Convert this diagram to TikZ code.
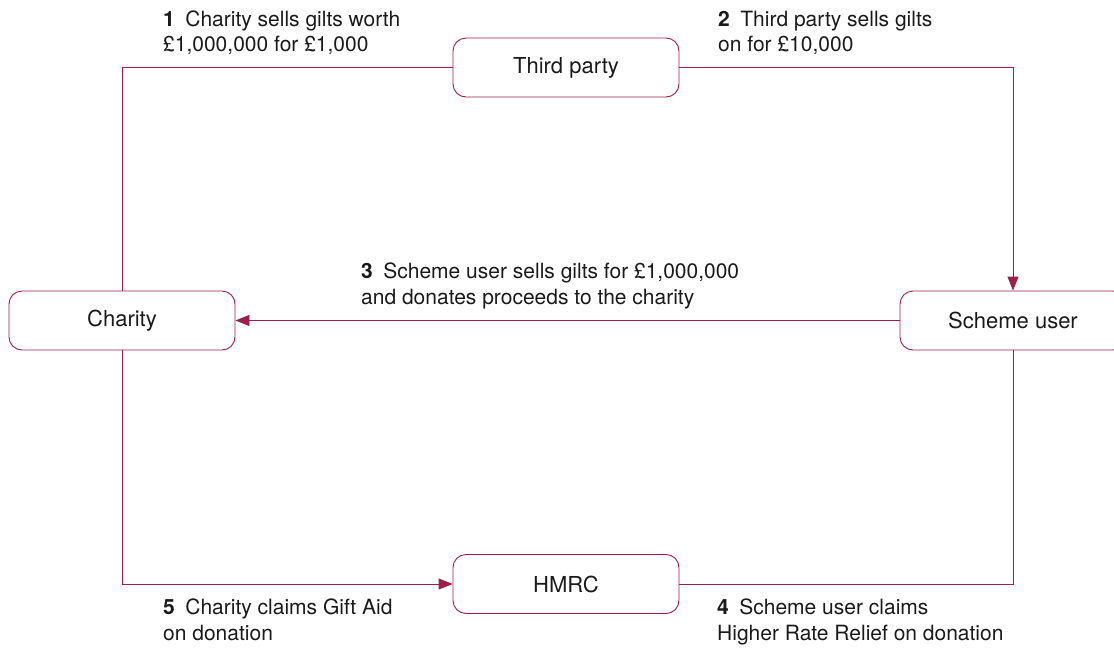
\documentclass[tikz,border=0pt]{standalone}
\usepackage{fontspec}
\setmainfont{TeX Gyre Heros}
\usetikzlibrary{arrows.meta}
\definecolor{crim}{RGB}{157,30,70}
\definecolor{txt}{RGB}{26,26,26}
\begin{document}
\begin{tikzpicture}[x=1pt,y=-1pt,
  box/.style={draw=crim, line width=0.9pt, rounded corners=13pt, minimum width=226pt, minimum height=59pt, inner sep=0pt, text=txt, font=\fontsize{22}{26}\selectfont},
  lbl/.style={anchor=base west, align=left, inner sep=0pt, text=txt, font=\fontsize{21}{25.7}\selectfont},
  link/.style={draw=crim, line width=0.9pt},
  arr/.style={link, -{Triangle[length=14pt,width=11pt]}}]
\useasboundingbox (0,0) rectangle (1114,648);
\node[box] (third) at (566,67.5) {Third party};
\node[box] (charity) at (122,320.5) {Charity};
\node[box] (scheme) at (1013,320.5) {Scheme user};
\node[box] (hmrc) at (566,584) {HMRC};
\coordinate (c1) at (122,67.5);
\coordinate (c2) at (1013,67.5);
\coordinate (c3) at (1013,584);
\coordinate (c4) at (122,584);
\draw[link] (charity.north) -- (c1) -- (third.west);
\draw[arr] (third.east) -- (c2) -- (scheme.north);
\draw[arr] (scheme.west) -- (charity.east);
\draw[link] (scheme.south) -- (c3) -- (hmrc.east);
\draw[arr] (charity.south) -- (c4) -- (hmrc.west);
\node[lbl] (l1) at (163,51.7) {\textbf{1}\hspace{0.5em}Charity sells gilts worth\\ £1,000,000 for £1,000};
\node[lbl] (l2) at (718,51.7) {\textbf{2}\hspace{0.5em}Third party sells gilts\\ on for £10,000};
\node[lbl] (l3) at (361,304) {\textbf{3}\hspace{0.5em}Scheme user sells gilts for £1,000,000\\ and donates proceeds to the charity};
\node[lbl] (l4) at (717,640) {\textbf{4}\hspace{0.5em}Scheme user claims\\ Higher Rate Relief on donation};
\node[lbl] (l5) at (163,640) {\textbf{5}\hspace{0.5em}Charity claims Gift Aid\\ on donation};
\end{tikzpicture}
\end{document}
